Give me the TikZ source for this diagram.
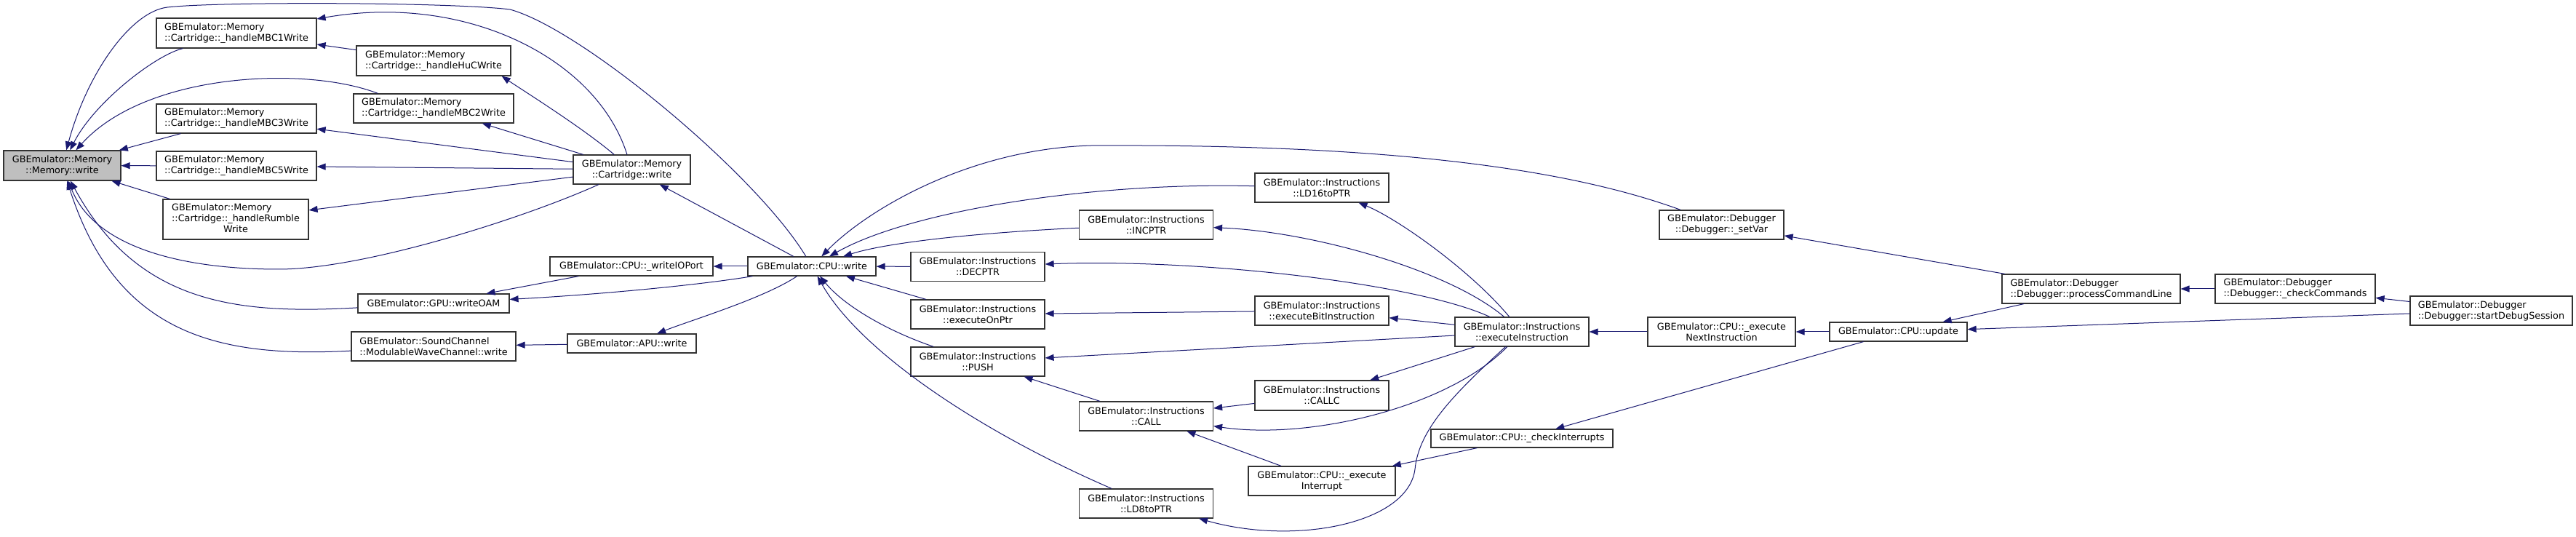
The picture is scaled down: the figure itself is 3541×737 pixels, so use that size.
\documentclass[tikz,border=0pt]{standalone}
\usepackage{fontspec}
\setmainfont{DejaVu Sans}
\usetikzlibrary{arrows.meta}
\definecolor{edgeblue}{RGB}{25,25,112}
\definecolor{hlgray}{RGB}{191,191,191}

\begin{document}
\begin{tikzpicture}[x=1pt, y=1pt, >={Triangle[length=12pt,width=9pt]},
  every node/.style={font=\fontsize{12.8}{15}\selectfont},
  func/.style={draw=black!80, line width=1.2pt, fill=white, inner sep=2pt, minimum height=40pt, align=center},
  funcl/.style={func, align=left},
  calls/.style={<-, draw=edgeblue, line width=1pt}]
  \path[use as bounding box, fill=white] (0,0) rectangle (3541,737);

  \node[func, fill=hlgray, minimum width=161pt, minimum height=41pt] (memw) at (85.5,509.5) {GBEmulator::Memory\\::Memory::write};
  \node[funcl, minimum width=220pt, minimum height=41pt] (mbc1) at (325,691.5) {GBEmulator::Memory\\::Cartridge::\_handleMBC1Write};
  \node[funcl, minimum width=212pt, minimum height=41pt] (huc) at (596,653.5) {GBEmulator::Memory\\::Cartridge::\_handleHuCWrite};
  \node[funcl, minimum width=220pt] (mbc2) at (596,588) {GBEmulator::Memory\\::Cartridge::\_handleMBC2Write};
  \node[funcl, minimum width=220pt] (mbc3) at (325,574) {GBEmulator::Memory\\::Cartridge::\_handleMBC3Write};
  \node[funcl, minimum width=220pt] (mbc5) at (325,509) {GBEmulator::Memory\\::Cartridge::\_handleMBC5Write};
  \node[func, minimum width=200pt, minimum height=55pt] (rumble) at (324,435.5) {\begin{tabular}{@{}l@{}}GBEmulator::Memory\\::Cartridge::\_handleRumble\\\multicolumn{1}{@{}c@{}}{Write}\end{tabular}};
  \node[func, minimum width=161pt] (cartw) at (868.5,504) {GBEmulator::Memory\\::Cartridge::write};
  \node[func, minimum width=224pt, minimum height=26pt] (wio) at (868,371) {GBEmulator::CPU::\_writeIOPort};
  \node[func, minimum width=208pt, minimum height=26pt] (oam) at (596,320) {GBEmulator::GPU::writeOAM};
  \node[funcl, minimum width=226pt] (mwc) at (596,261) {GBEmulator::SoundChannel\\::ModulableWaveChannel::write};
  \node[func, minimum width=177pt, minimum height=26pt] (apu) at (868.5,265) {GBEmulator::APU::write};
  \node[func, minimum width=176pt, minimum height=26pt] (cpuw) at (1116,371) {GBEmulator::CPU::write};
  \node[func, minimum width=184pt] (ld16) at (1817,479) {GBEmulator::Instructions\\::LD16toPTR};
  \node[func, minimum width=184pt] (incptr) at (1575.5,428) {GBEmulator::Instructions\\::INCPTR};
  \node[func, minimum width=184pt] (decptr) at (1344,370.5) {GBEmulator::Instructions\\::DECPTR};
  \node[func, minimum width=184pt] (exonptr) at (1344,305) {GBEmulator::Instructions\\::executeOnPtr};
  \node[func, minimum width=184pt] (exbit) at (1817,310) {GBEmulator::Instructions\\::executeBitInstruction};
  \node[func, minimum width=184pt] (push) at (1344,240) {GBEmulator::Instructions\\::PUSH};
  \node[func, minimum width=184pt, minimum height=41pt] (callc) at (1817,193.5) {GBEmulator::Instructions\\::CALLC};
  \node[func, minimum width=184pt] (call) at (1575.5,165) {GBEmulator::Instructions\\::CALL};
  \node[func, minimum width=202pt] (exint) at (1817,76) {GBEmulator::CPU::\_execute\\Interrupt};
  \node[func, minimum width=184pt] (ld8) at (1575.5,45) {GBEmulator::Instructions\\::LD8toPTR};
  \node[func, minimum width=184pt] (exinstr) at (2092,281) {GBEmulator::Instructions\\::executeInstruction};
  \node[func, minimum width=250pt, minimum height=25pt] (chkint) at (2092,134.5) {GBEmulator::CPU::\_checkInterrupts};
  \node[func, minimum width=203pt] (exnext) at (2366.5,281) {GBEmulator::CPU::\_execute\\NextInstruction};
  \node[func, minimum width=171pt] (setvar) at (2366.5,428) {GBEmulator::Debugger\\::Debugger::\_setVar};
  \node[func, minimum width=189pt, minimum height=26pt] (update) at (2609.5,281) {GBEmulator::CPU::update};
  \node[funcl, minimum width=245pt] (pcl) at (2874.5,340) {GBEmulator::Debugger\\::Debugger::processCommandLine};
  \node[funcl, minimum width=220pt] (chkcmd) at (3155,340) {GBEmulator::Debugger\\::Debugger::\_checkCommands};
  \node[funcl, minimum width=223pt] (sds) at (3424.5,310) {GBEmulator::Debugger\\::Debugger::startDebugSession};

  \draw[calls] (memw) .. controls (130,597) and (215,662) .. ([xshift=37pt]mbc1.south west);
  \draw[calls] (memw) .. controls (200,637) and (420,647) .. ([xshift=34pt]mbc2.north west);
  \draw[calls] (memw) -- (mbc3);
  \draw[calls] (memw) -- (mbc5);
  \draw[calls] (memw) -- (rumble);
  \draw[calls] (memw) .. controls (130,397) and (250,367) .. (383,367) .. controls (500,367) and (720,437) .. (cartw);
  \draw[calls] (memw) .. controls (190,317) and (330,305) .. (oam);
  \draw[calls] (memw) .. controls (160,277) and (300,245) .. (mwc);
  \draw[calls] (memw) .. controls (120,637) and (180,721) .. (230,727) .. controls (300,735) and (620,734) .. (701,724) .. controls (800,697) and (1040,497) .. (cpuw);
  \draw[calls] (mbc1) .. controls (640,747) and (820,657) .. (cartw);
  \draw[calls] ([xshift=-13pt]huc.south east) .. controls (720,612) and (800,562) .. (cartw);
  \draw[calls] (mbc1) -- (huc);
  \draw[calls] (mbc2) -- (cartw);
  \draw[calls] (mbc3) -- (cartw);
  \draw[calls] (mbc5) -- (cartw);
  \draw[calls] (rumble) -- (cartw);
  \draw[calls] (cartw) -- (cpuw);
  \draw[calls] (wio) -- (cpuw);
  \draw[calls] (oam) -- (wio);
  \draw[calls] (oam) .. controls (820,332) and (960,345) .. (cpuw);
  \draw[calls] (apu) .. controls (950,297) and (1050,327) .. (cpuw);
  \draw[calls] (mwc) -- (apu);
  \draw[calls] (cpuw) -- (decptr);
  \draw[calls] (cpuw) .. controls (1230,407) and (1380,419) .. (incptr);
  \draw[calls] (cpuw) .. controls (1250,447) and (1500,487) .. (ld16);
  \draw[calls] (cpuw) .. controls (1190,447) and (1330,532) .. (1500,537) .. controls (1900,539) and (2150,507) .. (setvar);
  \draw[calls] (cpuw) -- (exonptr);
  \draw[calls] (cpuw) .. controls (1160,317) and (1220,282) .. (push);
  \draw[calls] (cpuw) .. controls (1180,257) and (1340,147) .. (ld8);
  \draw[calls] (decptr) .. controls (1650,382) and (1950,347) .. (exinstr);
  \draw[calls] (incptr) .. controls (1800,419) and (1990,367) .. (exinstr);
  \draw[calls] (ld16) .. controls (1920,437) and (2020,367) .. (exinstr);
  \draw[calls] (exonptr) -- (exbit);
  \draw[calls] (exbit) -- (exinstr);
  \draw[calls] (push) -- (exinstr);
  \draw[calls] (push) -- (call);
  \draw[calls] (call) -- (callc);
  \draw[calls] (callc) -- (exinstr);
  \draw[calls] (call) .. controls (1800,132) and (1990,177) .. (exinstr);
  \draw[calls] (call) -- (exint);
  \draw[calls] (ld8) .. controls (1780,-13) and (1935,17) .. (1945,92) .. controls (1950,147) and (2000,197) .. (exinstr);
  \draw[calls] (exint) -- (chkint);
  \draw[calls] (exinstr) -- (exnext);
  \draw[calls] (exnext) -- (update);
  \draw[calls] (chkint) -- (update);
  \draw[calls] (setvar) -- (pcl);
  \draw[calls] (update) -- (pcl);
  \draw[calls] (update) -- (sds);
  \draw[calls] (pcl) -- (chkcmd);
  \draw[calls] (chkcmd) -- (sds);
\end{tikzpicture}
\end{document}
